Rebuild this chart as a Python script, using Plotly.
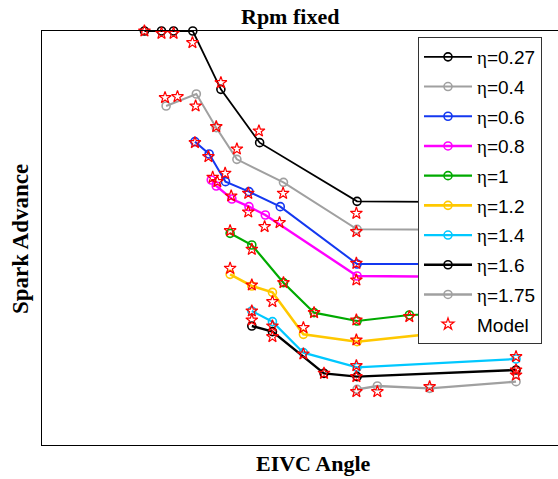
import plotly.graph_objects as go

# Operating points per efficiency level (eta): EIVC angle vs. spark advance
eta_labels = ["0.27", "0.4", "0.6", "0.8", "1", "1.2", "1.4", "1.6", "1.75"]
colors = ["#000000", "#a0a0a0", "#1438f0", "#ff00ff", "#00aa00",
          "#ffc800", "#00c8ff", "#000000", "#a0a0a0"]
line_widths = [1.8, 2, 2, 2.4, 2.2, 2.6, 2.2, 2.4, 2.4]

exp_x = [
    [28.8, 33.6, 37.0, 42.4, 50.3, 61.2, 88.6, 133.3],
    [34.9, 43.4, 49.0, 54.8, 67.9, 88.6, 133.3],
    [43.0, 47.0, 51.6, 58.2, 67.0, 88.6, 133.3],
    [47.6, 49.0, 53.4, 58.2, 62.8, 88.6, 133.3],
    [52.9, 59.0, 67.9, 76.5, 88.6, 103.3, 133.3],
    [52.9, 59.0, 64.8, 73.5, 88.6, 133.3],
    [59.0, 64.8, 73.5, 88.6, 133.3],
    [59.0, 64.8, 79.3, 88.6, 133.3],
    [88.6, 94.3, 109.0, 133.3],
]
exp_y = [
    [124.2, 124.2, 124.2, 124.2, 106.7, 90.7, 73.1, 72.8],
    [101.7, 105.3, 95.2, 85.7, 78.8, 64.7, 64.5],
    [91.0, 87.3, 79.0, 76.0, 71.5, 54.3, 54.3],
    [79.5, 77.7, 73.8, 71.5, 69.0, 50.7, 50.3],
    [63.5, 60.0, 48.7, 39.7, 37.2, 39.0, 40.0],
    [51.2, 47.7, 45.8, 33.2, 31.0, 36.0],
    [40.2, 37.0, 27.7, 23.3, 25.8],
    [35.7, 34.0, 21.5, 20.5, 22.5],
    [16.7, 17.7, 17.0, 19.0],
]

# Model predictions
model_x = [
    [28.8, 33.6, 37.0, 42.3, 50.3, 61.0, 88.4],
    [34.6, 38.1, 43.2, 49.0, 54.8, 67.8, 88.4],
    [43.0, 46.8, 51.5, 58.0, 66.8, 88.4],
    [48.0, 49.3, 53.2, 58.0, 62.6, 88.4],
    [52.9, 59.0, 67.9, 76.5, 88.4, 103.3],
    [52.9, 59.0, 64.8, 73.5, 88.4],
    [59.0, 64.8, 73.5, 88.4, 133.3],
    [59.0, 64.8, 79.3, 88.4, 133.3],
    [88.4, 94.3, 109.0, 133.3],
]
model_y = [
    [124.2, 123.5, 123.5, 120.7, 108.7, 94.2, 69.5],
    [104.2, 104.5, 101.7, 95.5, 88.8, 75.5, 64.0],
    [90.7, 86.5, 81.5, 75.5, 66.7, 54.5],
    [80.3, 79.0, 74.7, 69.9, 65.5, 49.5],
    [64.3, 58.7, 48.7, 39.7, 37.5, 38.5],
    [53.0, 48.0, 43.0, 35.2, 31.5],
    [40.2, 35.7, 27.3, 23.8, 26.5],
    [37.5, 32.5, 21.5, 20.5, 22.5],
    [16.0, 16.0, 17.5, 21.0],
]

W, H = 558, 479
ML, MT, MB, MR = 42, 31, 34, 0
X_RANGE = [0, 145.1]
Y_RANGE = [0, 124.2]

SERIF = "Liberation Serif, Times New Roman, serif"
SANS = "Liberation Sans, Arial, sans-serif"

fig = go.Figure()

for i, lab in enumerate(eta_labels):
    fig.add_trace(go.Scatter(
        x=exp_x[i], y=exp_y[i],
        mode="lines+markers",
        name=f"<span style='font-family:{SERIF}'>η</span>={lab}",
        legendgroup=f"eta{i}",
        line=dict(color=colors[i], width=line_widths[i]),
        marker=dict(symbol="circle-open", size=8, color=colors[i],
                    line=dict(width=1.6, color=colors[i])),
        cliponaxis=False,
    ))

for i in range(len(eta_labels)):
    fig.add_trace(go.Scatter(
        x=model_x[i], y=model_y[i],
        mode="markers",
        name="Model",
        legendgroup="model",
        showlegend=(i == 0),
        marker=dict(symbol="star-open", size=9, color="#ff0000",
                    line=dict(width=1.2, color="#ff0000")),
        cliponaxis=False,
    ))

plot_w = W - ML - MR
plot_h = H - MT - MB

fig.update_layout(
    width=W, height=H,
    margin=dict(l=ML, r=MR, t=MT, b=MB, pad=0),
    paper_bgcolor="white", plot_bgcolor="white",
    showlegend=True,
    legend=dict(
        x=(418 - ML) / plot_w, y=(H - MB - 37) / plot_h,
        xanchor="left", yanchor="top",
        bgcolor="white", bordercolor="#333333", borderwidth=1,
        font=dict(family=SANS, size=19, color="black"),
        traceorder="grouped", tracegroupgap=2,
        itemwidth=48,
    ),
    xaxis=dict(range=X_RANGE, showgrid=False, zeroline=False,
               showticklabels=False, ticks="",
               showline=True, linecolor="black", linewidth=1, mirror=True),
    yaxis=dict(range=Y_RANGE, showgrid=False, zeroline=False,
               showticklabels=False, ticks="",
               showline=True, linecolor="black", linewidth=1),
    annotations=[
        dict(text="<b>Rpm fixed</b>", xref="paper", yref="paper",
             x=(290 - ML) / plot_w, y=(H - MB - 16) / plot_h,
             xanchor="center", yanchor="middle", showarrow=False,
             font=dict(family=SERIF, size=22, color="black")),
        dict(text="<b>EIVC Angle</b>", xref="paper", yref="paper",
             x=(313 - ML) / plot_w, y=(H - MB - 463) / plot_h,
             xanchor="center", yanchor="middle", showarrow=False,
             font=dict(family=SERIF, size=22, color="black")),
        dict(text="<b>Spark Advance</b>", xref="paper", yref="paper",
             x=(20 - ML) / plot_w, y=(H - MB - 239) / plot_h,
             xanchor="center", yanchor="middle", showarrow=False,
             textangle=-90,
             font=dict(family=SERIF, size=23, color="black")),
    ],
)

fig.write_html("out.html")
